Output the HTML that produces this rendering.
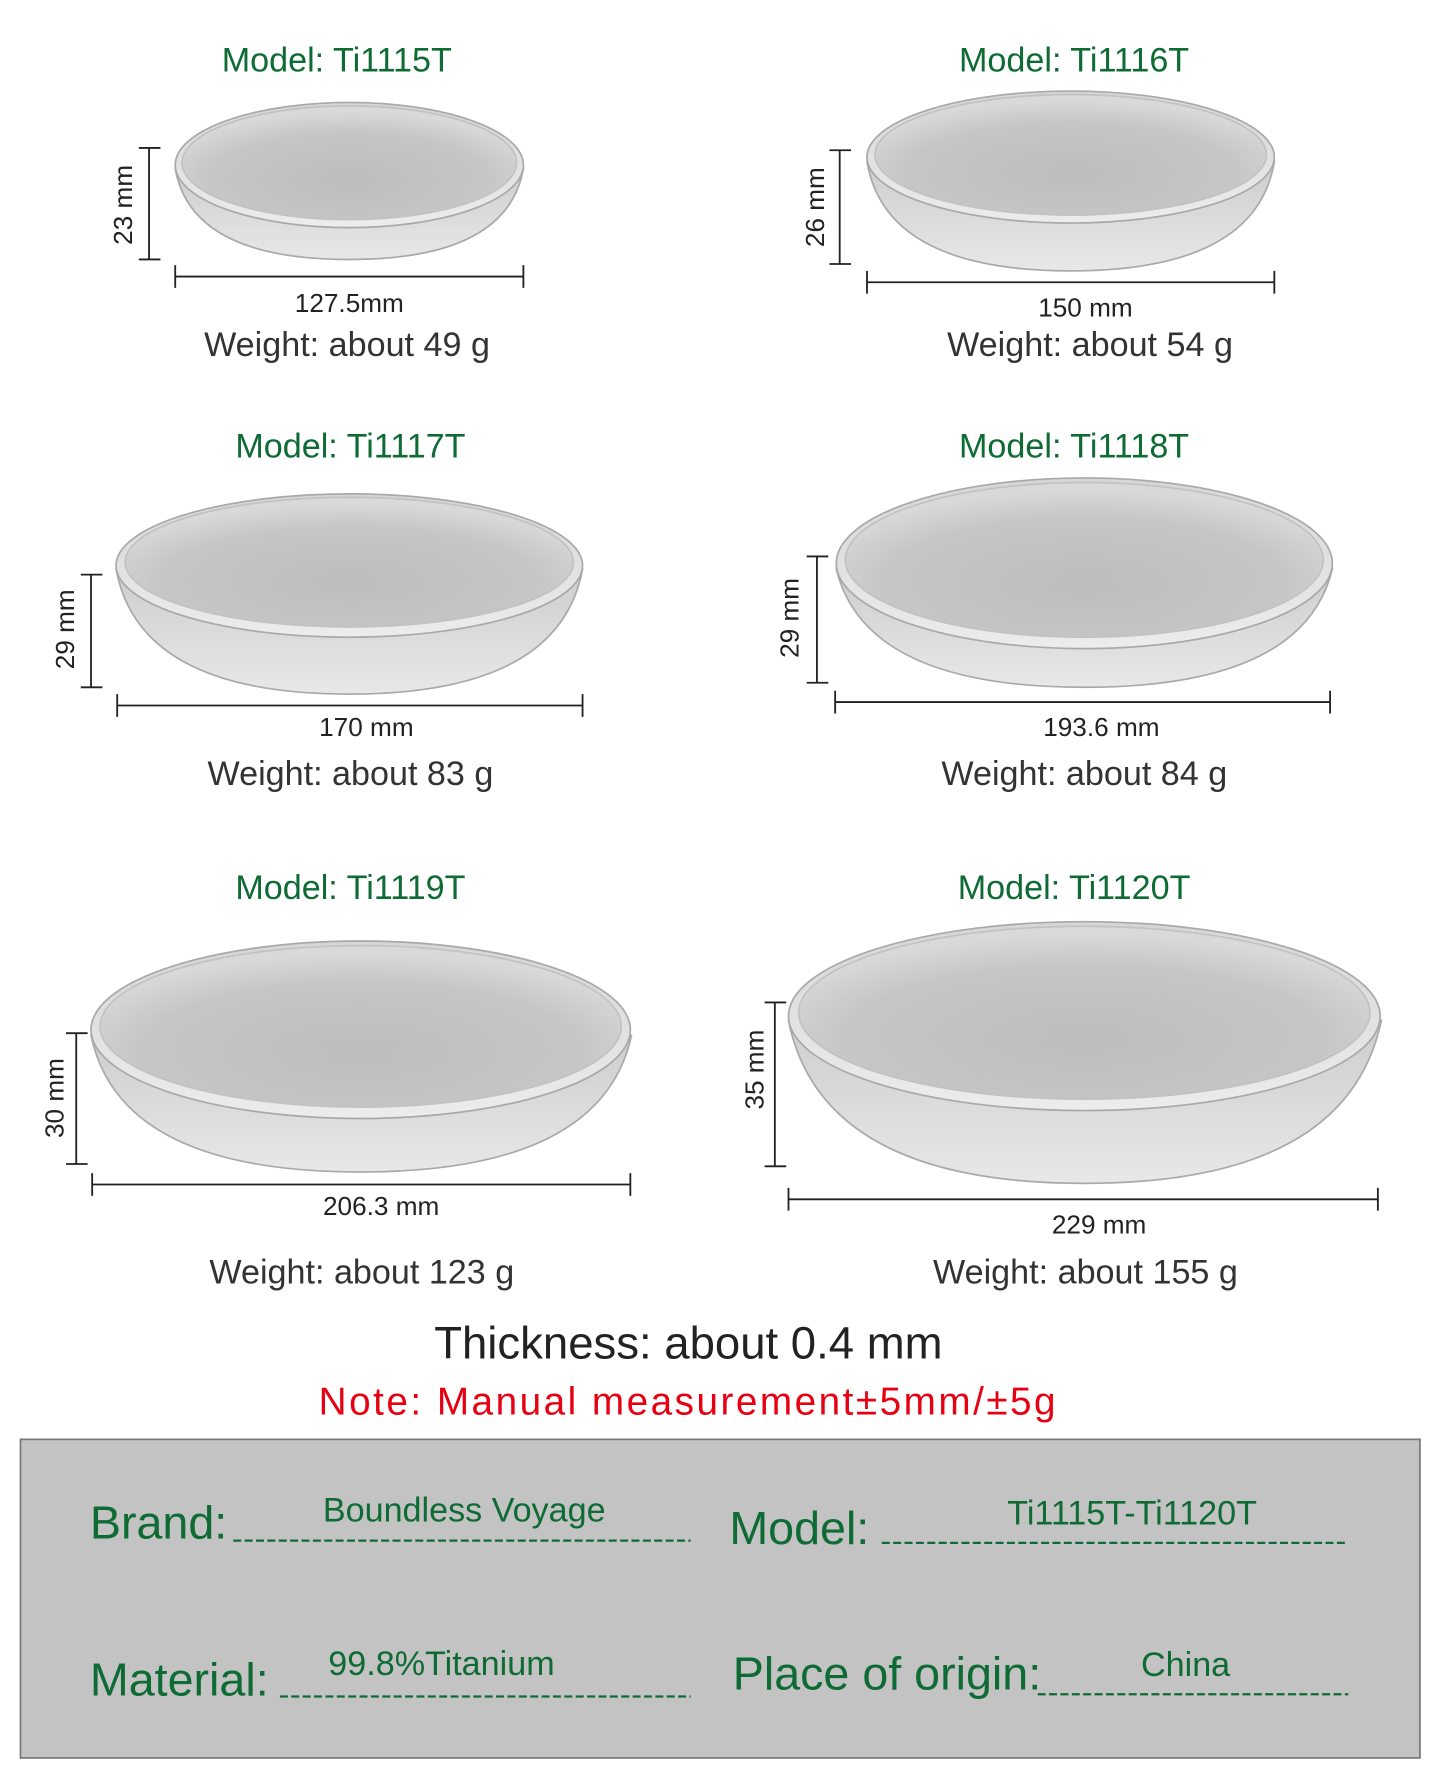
<!DOCTYPE html>
<html><head><meta charset="utf-8"><style>
html,body{margin:0;padding:0;background:#fff;}
svg{display:block;}
text{font-family:"Liberation Sans",Arial,sans-serif;}
</style></head><body>
<svg width="1445" height="1791" viewBox="0 0 1270 1574" xmlns="http://www.w3.org/2000/svg">
<defs>
<linearGradient id="body" x1="0" y1="0" x2="0" y2="1"><stop offset="0" stop-color="#cdcdcd"/><stop offset="1" stop-color="#e8e8e8"/></linearGradient>
<radialGradient id="inner" cx="0.5" cy="0.65" r="0.6"><stop offset="0" stop-color="#bdbdbd"/><stop offset="0.7" stop-color="#c6c6c6"/><stop offset="1" stop-color="#d9d9d9"/></radialGradient>
<linearGradient id="rim" x1="0" y1="0" x2="0" y2="1"><stop offset="0" stop-color="#d6d6d6"/><stop offset="1" stop-color="#ececec"/></linearGradient>
</defs>
<g fill="#0e6b34" font-size="30" text-anchor="middle">
<text x="296" y="63">Model: Ti1115T</text><text x="944" y="63">Model: Ti1116T</text>
<text x="308" y="402">Model: Ti1117T</text><text x="944" y="402">Model: Ti1118T</text>
<text x="308" y="790">Model: Ti1119T</text><text x="944" y="790">Model: Ti1120T</text>
</g>
<g stroke="#a9a9a9" stroke-width="1.5">
<path d="M154,148 Q168,228 307,228 Q446,228 460,148 Z" fill="url(#body)"/>
<ellipse cx="307" cy="145" rx="153" ry="55" fill="url(#rim)"/>
<ellipse cx="307" cy="143" rx="147" ry="50" fill="url(#inner)" stroke="#c2c2c2"/>
<path d="M762,142 Q778,238 941,238 Q1104,238 1120,142 Z" fill="url(#body)"/>
<ellipse cx="941" cy="138" rx="179" ry="58" fill="url(#rim)"/>
<ellipse cx="941" cy="136" rx="172" ry="53" fill="url(#inner)" stroke="#c2c2c2"/>
<path d="M102,500 Q122,610 307,610 Q492,610 512,500 Z" fill="url(#body)"/>
<ellipse cx="307" cy="497" rx="205" ry="63" fill="url(#rim)"/>
<ellipse cx="307" cy="494" rx="197" ry="57" fill="url(#inner)" stroke="#c2c2c2"/>
<path d="M735,500 Q760,604 953,604 Q1146,604 1171,500 Z" fill="url(#body)"/>
<ellipse cx="953" cy="495" rx="218" ry="75" fill="url(#rim)"/>
<ellipse cx="953" cy="492" rx="210" ry="68" fill="url(#inner)" stroke="#c2c2c2"/>
<path d="M80,910 Q105,1030 317,1030 Q529,1030 555,910 Z" fill="url(#body)"/>
<ellipse cx="317" cy="905" rx="237" ry="78" fill="url(#rim)"/>
<ellipse cx="317" cy="902" rx="229" ry="71" fill="url(#inner)" stroke="#c2c2c2"/>
<path d="M693,897 Q722,1040 953,1040 Q1184,1040 1214,897 Z" fill="url(#body)"/>
<ellipse cx="953" cy="893" rx="260" ry="83" fill="url(#rim)"/>
<ellipse cx="953" cy="890" rx="251" ry="76" fill="url(#inner)" stroke="#c2c2c2"/>
</g>
<g stroke="#222" stroke-width="1.6" fill="none">
<path d="M131,130V228M122,130H141M122,228H141M154,243H460M154,233V253M460,233V253"/>
<path d="M738,132V232M729,132H748M729,232H748M762,248H1120M762,238V258M1120,238V258"/>
<path d="M80,505V604M71,505H90M71,604H90M103,620H512M103,610V630M512,610V630"/>
<path d="M718,489V600M709,489H728M709,600H728M734,617H1169M734,607V627M1169,607V627"/>
<path d="M67,908V1023M58,908H77M58,1023H77M81,1041H554M81,1031V1051M554,1031V1051"/>
<path d="M681,881V1025M672,881H691M672,1025H691M693,1054H1211M693,1044V1064M1211,1044V1064"/>
</g>
<g fill="#222" font-size="23" text-anchor="middle">
<text transform="translate(116,180) rotate(-90)">23 mm</text>
<text transform="translate(724,182) rotate(-90)">26 mm</text>
<text transform="translate(65,553) rotate(-90)">29 mm</text>
<text transform="translate(702,543) rotate(-90)">29 mm</text>
<text transform="translate(56,965) rotate(-90)">30 mm</text>
<text transform="translate(671,940) rotate(-90)">35 mm</text>
<text x="307" y="274">127.5mm</text><text x="954" y="278">150 mm</text>
<text x="322" y="647">170 mm</text><text x="968" y="647">193.6 mm</text>
<text x="335" y="1068">206.3 mm</text><text x="966" y="1084">229 mm</text>
</g>
<g fill="#333" font-size="30" text-anchor="middle">
<text x="305" y="313">Weight: about 49 g</text><text x="958" y="313">Weight: about 54 g</text>
<text x="308" y="690">Weight: about 83 g</text><text x="953" y="690">Weight: about 84 g</text>
<text x="318" y="1128">Weight: about 123 g</text><text x="954" y="1128">Weight: about 155 g</text>
</g>
<text x="605" y="1194" font-size="40" fill="#222" text-anchor="middle">Thickness: about 0.4 mm</text>
<text x="605" y="1243" font-size="34" fill="#e60012" text-anchor="middle" letter-spacing="2.2">Note: Manual measurement±5mm/±5g</text>
<rect x="18" y="1265" width="1230" height="280" fill="#c3c3c3" stroke="#777" stroke-width="1.5"/>
<g fill="#0e6b34">
<text x="79" y="1352" font-size="41">Brand:</text>
<text x="641" y="1357" font-size="41">Model:</text>
<text x="79" y="1490" font-size="41">Material:</text>
<text x="644" y="1485" font-size="41">Place of origin:</text>
<g font-size="30" text-anchor="middle">
<text x="408" y="1337">Boundless Voyage</text>
<text x="995" y="1340">Ti1115T-Ti1120T</text>
<text x="388" y="1472">99.8%Titanium</text>
<text x="1042" y="1473">China</text>
</g>
</g>
<g stroke="#0e6b34" stroke-width="2" stroke-dasharray="7,3">
<path d="M205,1354H607M775,1356H1185M246,1491H607M912,1489H1185"/>
</g>
</svg>
</body></html>
